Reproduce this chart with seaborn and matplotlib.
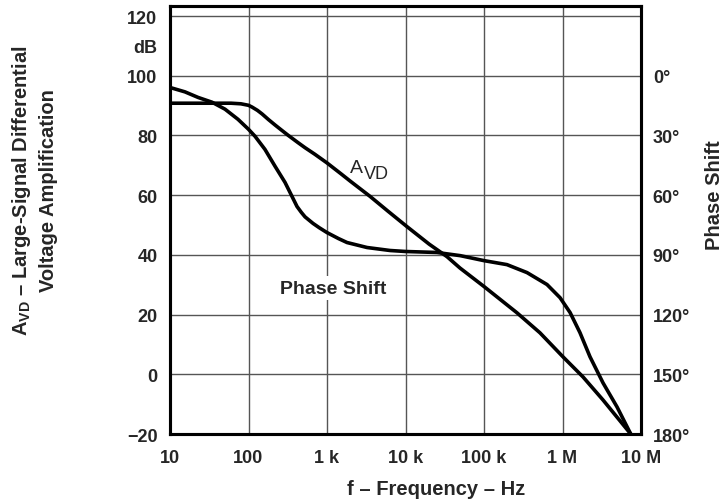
import matplotlib
matplotlib.use("Agg")
import matplotlib.pyplot as plt
from matplotlib.ticker import NullLocator
import seaborn as sns

# ---- data ----
avd_freq = [10, 28, 60, 80, 100, 111, 130, 149, 180, 218, 260, 318, 427, 525, 700, 1000,
            1500, 2000, 3532, 6000, 10400, 20000, 33800, 49400, 100000, 263000, 516000,
            1010000, 1820000, 3280000, 7400000]
avd_db = [90.8, 90.8, 90.8, 90.6, 90.1, 89.5, 88.4, 87.2, 85.3, 83.5, 81.9, 80.1, 77.6,
          75.9, 73.7, 70.8, 67.2, 64.6, 59.6, 54.6, 49.5, 43.6, 39.4, 35.6, 29.4, 20.6,
          13.9, 5.9, -0.85, -8.6, -20.0]

phase_freq = [10, 15.5, 22.8, 34.3, 50.2, 73.5, 100, 121, 162, 218, 292, 358, 415, 470,
              525, 664, 800, 1000, 1400, 1800, 3236, 6350, 10000, 25200, 50000, 100000,
              196000, 353000, 635000, 930000, 1250000, 1670000, 2240000, 3280000,
              4950000, 7400000]
phase_deg = [5.9, 8.1, 10.9, 13.3, 16.8, 21.9, 26.9, 30.4, 37.0, 45.5, 53.6, 60.6, 65.7,
             68.6, 70.9, 74.2, 76.4, 78.8, 81.8, 83.8, 86.3, 87.8, 88.3, 88.8, 90.4, 92.9,
             94.9, 98.9, 104.9, 111.5, 119.0, 129.1, 141.2, 154.3, 166.4, 180.0]

x_ticks = [10, 100, 1e3, 1e4, 1e5, 1e6, 1e7]
x_labels = ["10", "100", "1 k", "10 k", "100 k", "1 M", "10 M"]
left_ticks = [-20, 0, 20, 40, 60, 80, 100, 110, 120]
left_labels = ["\u221220", "0", "20", "40", "60", "80", "100", "dB", "120"]
right_ticks = [0, 30, 60, 90, 120, 150, 180]
right_labels = ["0\u00b0", "30\u00b0", "60\u00b0", "90\u00b0", "120\u00b0", "150\u00b0", "180\u00b0"]

# ---- style ----
sns.set_style("white")
plt.rcParams["font.family"] = ["Liberation Sans", "DejaVu Sans"]
plt.rcParams["mathtext.fontset"] = "custom"
plt.rcParams["mathtext.rm"] = "Liberation Sans"
plt.rcParams["mathtext.bf"] = "Liberation Sans:bold"

W, H = 727, 502
fig = plt.figure(figsize=(W / 100, H / 100), dpi=100)
L, R, T, B = 170, 641, 7, 435
ax = fig.add_axes([L / W, 1 - B / H, (R - L) / W, (B - T) / H])

ax.set_xscale("log")
ax.set_xlim(10, 1e7)
ax.set_ylim(-20, 123.36)

line_kw = dict(color="black", lw=2.6, sort=False, zorder=4,
               solid_joinstyle="round", solid_capstyle="round")
sns.lineplot(x=avd_freq, y=avd_db, ax=ax, **line_kw)

ax2 = ax.twinx()
ax2.set_xscale("log")
sns.lineplot(x=phase_freq, y=phase_deg, ax=ax2, **line_kw)
ax2.set_ylim(180, -35.04)
ax2.set_xlim(10, 1e7)

ax.set_xticks(x_ticks)
ax.set_xticklabels(x_labels)
ax.xaxis.set_minor_locator(NullLocator())
ax2.xaxis.set_minor_locator(NullLocator())
ax.set_yticks(left_ticks)
ax.set_yticklabels(left_labels)
ax2.set_yticks(right_ticks)
ax2.set_yticklabels(right_labels)

ax.grid(True, which="major", color="#555555", lw=1.0)
for t in ax.yaxis.get_major_ticks():
    if abs(t.get_loc() - 110) < 1e-6:
        t.gridline.set_visible(False)
ax2.grid(False)

fs = 13
ax.tick_params(axis="x", length=0, pad=11, labelsize=fs)
ax.tick_params(axis="y", length=0, pad=9, labelsize=fs)
ax2.tick_params(axis="y", length=0, pad=8.5, labelsize=fs)
for lab in ax.get_xticklabels() + ax.get_yticklabels() + ax2.get_yticklabels():
    lab.set_fontweight("bold")

for a in (ax, ax2):
    for s in a.spines.values():
        s.set_visible(True)
        s.set_color("black")
        s.set_linewidth(2.2)
ax.set_xlabel("")
ax.set_ylabel("")
ax2.set_ylabel("")

# in-plot labels
ax.text(1963, 67.63, "A", fontsize=14, ha="left", va="baseline", zorder=5)
ax.text(2958, 65.62, "VD", fontsize=13, ha="left", va="baseline", zorder=5)
ax.text(1211, 27.35, "Phase Shift", fontsize=14, fontweight="bold", ha="center",
        va="baseline", zorder=5,
        bbox=dict(facecolor="white", edgecolor="none", pad=2.5))

# axis titles
lfs = 14.5
fig.text(22 / W, 1 - 191 / H, "A$_{\\mathbf{VD}}$ \u2013 Large-Signal Differential",
         rotation=90, ha="center", va="center", fontsize=lfs, fontweight="bold")
fig.text(49 / W, 1 - 191 / H, "Voltage Amplification", rotation=90, ha="center",
         va="center", fontsize=lfs, fontweight="bold")
fig.text(714 / W, 1 - 195 / H, "Phase Shift", rotation=90, ha="center", va="center",
         fontsize=lfs, fontweight="bold")
fig.text(436 / W, 1 - 495 / H, "f \u2013 Frequency \u2013 Hz", ha="center", va="baseline",
         fontsize=lfs, fontweight="bold")

fig.savefig("out.png", dpi=100)
